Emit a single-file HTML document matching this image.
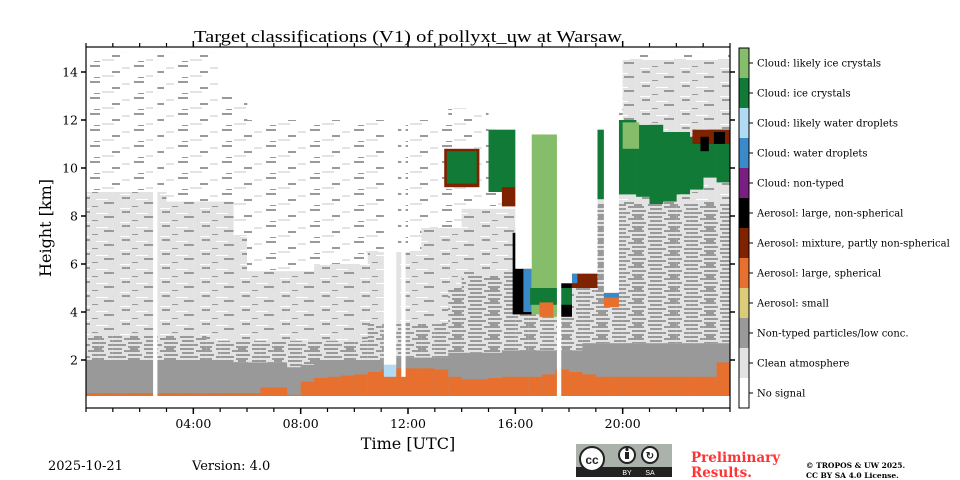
<!DOCTYPE html>
<html><head><meta charset="utf-8">
<style>
html,body{margin:0;padding:0;background:#fff;}
svg{display:block;font-family:"DejaVu Serif","Liberation Serif",serif;}
</style></head>
<body>
<svg id="chart" width="960" height="480" viewBox="0 0 960 480" xmlns="http://www.w3.org/2000/svg">
<defs>
<pattern id="pHeavy" width="36" height="12" patternUnits="userSpaceOnUse">
<rect width="36" height="12" fill="#e3e3e3"/>
<rect x="0" y="0" width="14" height="2" fill="#999"/><rect x="16" y="2" width="16" height="2" fill="#999"/>
<rect x="2" y="4" width="12" height="2" fill="#999"/><rect x="20" y="6" width="14" height="2" fill="#999"/>
<rect x="0" y="8" width="18" height="2" fill="#999"/><rect x="20" y="10" width="12" height="2" fill="#999"/>
<rect x="22" y="0" width="8" height="2" fill="#999"/>
</pattern>
<pattern id="pLight" width="40" height="14" patternUnits="userSpaceOnUse">
<rect width="40" height="14" fill="#e3e3e3"/>
<rect x="2" y="1" width="8" height="2" fill="#999"/><rect x="24" y="6" width="10" height="2" fill="#999"/>
<rect x="12" y="10" width="6" height="1" fill="#999"/><rect x="16" y="3" width="12" height="1" fill="#fff"/>
<rect x="0" y="12" width="10" height="1" fill="#fff"/>
</pattern>
<pattern id="pSparse" width="44" height="16" patternUnits="userSpaceOnUse">
<rect width="44" height="16" fill="#fff"/>
<rect x="2" y="1" width="10" height="2" fill="#999"/><rect x="24" y="7" width="8" height="2" fill="#999"/>
<rect x="14" y="11" width="12" height="2" fill="#e3e3e3"/><rect x="34" y="3" width="8" height="2" fill="#e3e3e3"/>
<rect x="6" y="13" width="6" height="1" fill="#999"/>
</pattern>
</defs>
<g id="plot"></g>
<g id="axes"></g>
<g id="cbar"></g>
<text x="408" y="42" font-size="17" text-anchor="middle" font-family="Liberation Serif, serif" textLength="428" lengthAdjust="spacingAndGlyphs">Target classifications (V1) of pollyxt_uw at Warsaw</text>
<text x="408" y="449" font-size="16" text-anchor="middle">Time [UTC]</text>
<text transform="translate(51,228) rotate(-90)" font-size="16" text-anchor="middle">Height [km]</text>
<text x="48" y="470" font-size="13">2025-10-21</text>
<text x="192" y="470" font-size="13">Version: 4.0</text>
<g>
<rect x="576" y="444" width="96" height="33" fill="#aab2ab"/>
<rect x="576" y="467" width="96" height="10" fill="#222"/>
<circle cx="592" cy="459" r="12" fill="#fff" stroke="#222" stroke-width="2"/>
<text x="592" y="464" font-size="12" font-weight="bold" text-anchor="middle" font-family="Liberation Sans, sans-serif" fill="#222">cc</text>
<circle cx="627" cy="455" r="8" fill="#fff" stroke="#222" stroke-width="2"/>
<circle cx="650" cy="455" r="8" fill="#fff" stroke="#222" stroke-width="2"/>
<rect x="625" y="452" width="4" height="7" fill="#222"/><circle cx="627" cy="449.5" r="1.6" fill="#222"/>
<text x="650" y="459" font-size="10" font-weight="bold" text-anchor="middle" font-family="Liberation Sans, sans-serif" fill="#222">↻</text>
<text x="627" y="475" font-size="7" text-anchor="middle" font-family="Liberation Sans, sans-serif" fill="#fff">BY</text>
<text x="650" y="475" font-size="7" text-anchor="middle" font-family="Liberation Sans, sans-serif" fill="#fff">SA</text>
</g>
<text x="691" y="462" font-size="13.5" font-weight="bold" fill="#ff3333">Preliminary</text>
<text x="691" y="477" font-size="13.5" font-weight="bold" fill="#ff3333">Results.</text>
<text x="806" y="468" font-size="7.5" font-weight="bold">© TROPOS &amp; UW 2025.</text>
<text x="806" y="478" font-size="7.5" font-weight="bold">CC BY SA 4.0 License.</text>
</svg>
<script>
// ---- data (times in hours UTC, heights in km) ----
const classNames = ["No signal","Clean atmosphere","Non-typed particles/low conc.","Aerosol: small","Aerosol: large, spherical","Aerosol: mixture, partly non-spherical","Aerosol: large, non-spherical","Cloud: non-typed","Cloud: water droplets","Cloud: likely water droplets","Cloud: ice crystals","Cloud: likely ice crystals"];
const classColors = ["#ffffff","#e3e3e3","#999999","#dccc78","#e8702e","#7f2200","#000000","#7a1f82","#3a89c9","#b1dbf4","#127a37","#86bd6a"];
const binStart = [0,0.5,1,1.5,2,2.5,3,3.5,4,4.5,5,5.5,6,6.5,7,7.5,8,8.5,9,9.5,10,10.5,11,11.5,12,12.5,13,13.5,14,14.5,15,15.5,16,16.5,17,17.5,18,18.5,19,19.5,20,20.5,21,21.5,22,22.5,23,23.5];
const aerosolTop = [0.62,0.62,0.62,0.62,0.62,0.62,0.62,0.62,0.62,0.62,0.62,0.62,0.62,0.85,0.85,0.55,1.1,1.25,1.3,1.35,1.4,1.5,1.6,1.65,1.65,1.65,1.6,1.3,1.2,1.2,1.25,1.3,1.3,1.3,1.4,1.6,1.5,1.4,1.3,1.3,1.3,1.3,1.3,1.3,1.3,1.3,1.3,1.9];
const greyTop = [2.0,2.0,2.0,2.0,2.0,2.0,2.0,2.0,2.0,2.0,2.0,1.9,1.9,1.9,1.9,1.7,1.8,2.0,2.0,2.0,2.0,2.0,2.0,2.1,2.1,2.1,2.1,2.3,2.3,2.3,2.3,2.4,2.4,2.4,2.4,2.4,2.4,2.7,2.7,2.7,2.7,2.7,2.7,2.7,2.7,2.7,2.7,2.7];
const mixTop = [3.0,3.0,3.0,3.0,3.0,3.0,3.0,3.0,3.0,2.8,2.8,2.8,2.8,2.8,2.8,2.8,2.8,2.8,2.8,2.8,2.8,3.5,3.5,3.5,3.5,3.5,3.5,5.0,5.5,5.5,5.5,5.5,7.5,7.5,7.5,8.0,8.0,8.5,8.5,8.5,8.5,8.5,8.5,8.5,8.5,8.5,8.5,8.5];
const lightTop = [9.0,9.0,9.0,9.0,9.0,9.0,8.6,8.6,8.6,8.6,8.6,7.2,5.7,5.7,5.7,5.7,5.7,6.0,6.0,6.0,6.0,6.5,6.5,6.5,6.5,7.5,7.5,7.5,8.3,8.3,8.3,8.3,9.0,9.0,9.0,9.0,9.0,9.0,9.0,9.0,14.5,14.5,14.5,14.5,14.5,14.5,14.5,14.5];
const speckTop = [14.8,14.8,14.8,14.8,14.8,14.8,14.8,14.8,14.8,14.8,13,13,12,12,12,12,12,12,12,12,12,12,12,12,12,12,12,12.5,12.5,12.5,12.5,12.5,12.5,12.5,12.5,12.5,12.5,12.5,12.5,12.5,14.8,14.8,14.8,14.8,14.8,14.8,14.8,14.8];
// feature patches: start time, end time, bottom km, top km, class index
const featStart = [13.35,13.45,15.0,15.5,15.9,16.3,16.6,16.9,16.55,17.7,17.7,18.1,19.05,19.3,19.3,19.85,20.5,21.0,21.5,22.0,22.5,23.0,23.5,20.0,22.6,22.9,23.4,11.1,17.8,16.9];
const featEnd   = [14.65,14.55,16.0,16.0,16.6,16.7,17.0,17.55,17.55,18.1,18.1,19.05,19.3,19.85,19.85,20.5,21.0,21.5,22.0,22.5,23.0,23.5,24.0,20.6,24.0,23.2,23.8,11.55,18.3,17.4];
const featBot   = [9.2,9.35,9.0,8.4,3.9,4.0,3.9,3.8,4.3,3.8,4.3,5.0,8.7,4.2,4.6,8.9,8.8,8.5,8.6,8.9,9.1,9.6,9.4,10.8,11.0,10.7,11.0,1.3,5.2,3.8];
const featTop   = [10.8,10.7,11.6,9.2,7.3,5.8,11.4,11.4,5.0,5.2,5.0,5.6,11.6,4.8,4.8,12.0,11.8,11.8,11.5,11.5,11.3,11.4,11.0,11.9,11.6,11.3,11.5,1.8,5.6,4.4];
const featCls   = [5,10,10,5,6,8,11,11,10,6,10,5,10,4,8,10,10,10,10,10,10,10,10,11,5,6,6,9,8,4];
// no-signal gaps
const gapStart = [2.5,11.1,11.75,16.0,16.6,17.55,17.7,18.1,19.05,19.3,15.0];
const gapEnd   = [2.65,11.55,11.9,16.6,17.55,17.7,18.1,19.05,19.3,19.85,16.0];
const gapBot   = [0.5,1.8,1.3,5.8,11.4,0.5,5.2,5.6,11.6,4.8,11.6];
const yTicks = [2,4,6,8,10,12,14];
const xMajor = [4,8,12,16,20];
const xMajorLabels = ["04:00","08:00","12:00","16:00","20:00"];

// ---- scales ----
const X0=86, X1=730, Y0=408, Y1=48, TMAX=24, HMAX=15, HMIN=0;
const xs = t => X0 + t*(X1-X0)/TMAX;
const ys = h => Y0 - (h-HMIN)*(Y0-Y1)/(HMAX-HMIN);
const NS = "http://www.w3.org/2000/svg";
function mk(tag, attrs, parent){const e=document.createElementNS(NS,tag);for(const k in attrs)e.setAttribute(k,attrs[k]);parent.appendChild(e);return e;}
function band(parent, t0, t1, h0, h1, fill, name){
  if(h1<=h0) return;
  const r = mk('rect',{x:xs(t0),y:ys(Math.min(h1,HMAX)),width:xs(t1)-xs(t0)+0.3,height:ys(h0)-ys(Math.min(h1,HMAX)),fill:fill},parent);
  
  
}
const plot = document.getElementById('plot');
const BIN = 0.5;
for(let i=0;i<binStart.length;i++){
  const t0=binStart[i], t1=t0+BIN;
  band(plot,t0,t1,greyTop[i],speckTop[i],'url(#pSparse)','sparse-signal-cell');
  band(plot,t0,t1,greyTop[i],lightTop[i],'url(#pLight)','clean-atmosphere-cell');
  band(plot,t0,t1,greyTop[i],mixTop[i],'url(#pHeavy)','mixed-particles-cell');
  band(plot,t0,t1,0.5,greyTop[i],classColors[2],'non-typed-particles-cell');
  band(plot,t0,t1,0.5,aerosolTop[i],classColors[4],'aerosol-large-spherical-cell');
}
for(let j=0;j<featStart.length;j++){
  band(plot,featStart[j],featEnd[j],featBot[j],featTop[j],classColors[featCls[j]],'feature-'+classNames[featCls[j]].toLowerCase().replace(/[^a-z]+/g,'-'));
}
for(let g=0;g<gapStart.length;g++){
  band(plot,gapStart[g],gapEnd[g],gapBot[g],HMAX,'#ffffff','no-signal-gap');
}

// ---- axes ----
const ax = document.getElementById('axes');
const frame = mk('rect',{x:X0,y:Y1-1,width:X1-X0,height:Y0-Y1+1,fill:'none',stroke:'#000','stroke-width':1.2},ax);


for(const v of yTicks){
  const y=ys(v);
  const l=mk('line',{x1:X0-5,x2:X0,y1:y,y2:y,stroke:'#000','stroke-width':1.5},ax);
  
  
  const r=mk('line',{x1:X1,x2:X1+5,y1:y,y2:y,stroke:'#000','stroke-width':1.5},ax);
  
  
  const tx=mk('text',{x:X0-8,y:y+4.5,'font-size':12.5,'text-anchor':'end'},ax);
  tx.textContent=String(v);
  
  
}
for(let h=0;h<=24;h++){
  const x=xs(h), major=xMajor.includes(h);
  const b=mk('line',{x1:x,x2:x,y1:Y0,y2:Y0+(major?6:4),stroke:'#000','stroke-width':major?1.5:1.2},ax);
  
  
  const t=mk('line',{x1:x,x2:x,y1:Y1-1,y2:Y1-1-(major?6:4),stroke:'#000','stroke-width':major?1.5:1.2},ax);
  
  
}
xMajor.forEach((h,k)=>{
  const tx=mk('text',{x:xs(h),y:Y0+20,'font-size':12.5,'text-anchor':'middle'},ax);
  tx.textContent=xMajorLabels[k];
  
  
});

// ---- colorbar ----
const cb=document.getElementById('cbar');
const CBX=739, CBW=10, CBTOP=48, SEG=30;
for(let c=0;c<classColors.length;c++){
  const idx=classColors.length-1-c;
  const y=CBTOP+c*SEG;
  const r=mk('rect',{x:CBX,y:y,width:CBW,height:SEG,fill:classColors[idx]},cb);
  
  
  mk('line',{x1:CBX+CBW,x2:CBX+CBW+4,y1:y+15,y2:y+15,stroke:'#000','stroke-width':1},cb);
  const tx=mk('text',{x:757,y:y+18.5,'font-size':10},cb);
  tx.textContent=classNames[idx];
  
  
}
const cbf=mk('rect',{x:CBX,y:CBTOP,width:CBW,height:SEG*12,fill:'none',stroke:'#000','stroke-width':1},cb);


</script>
</body></html>
